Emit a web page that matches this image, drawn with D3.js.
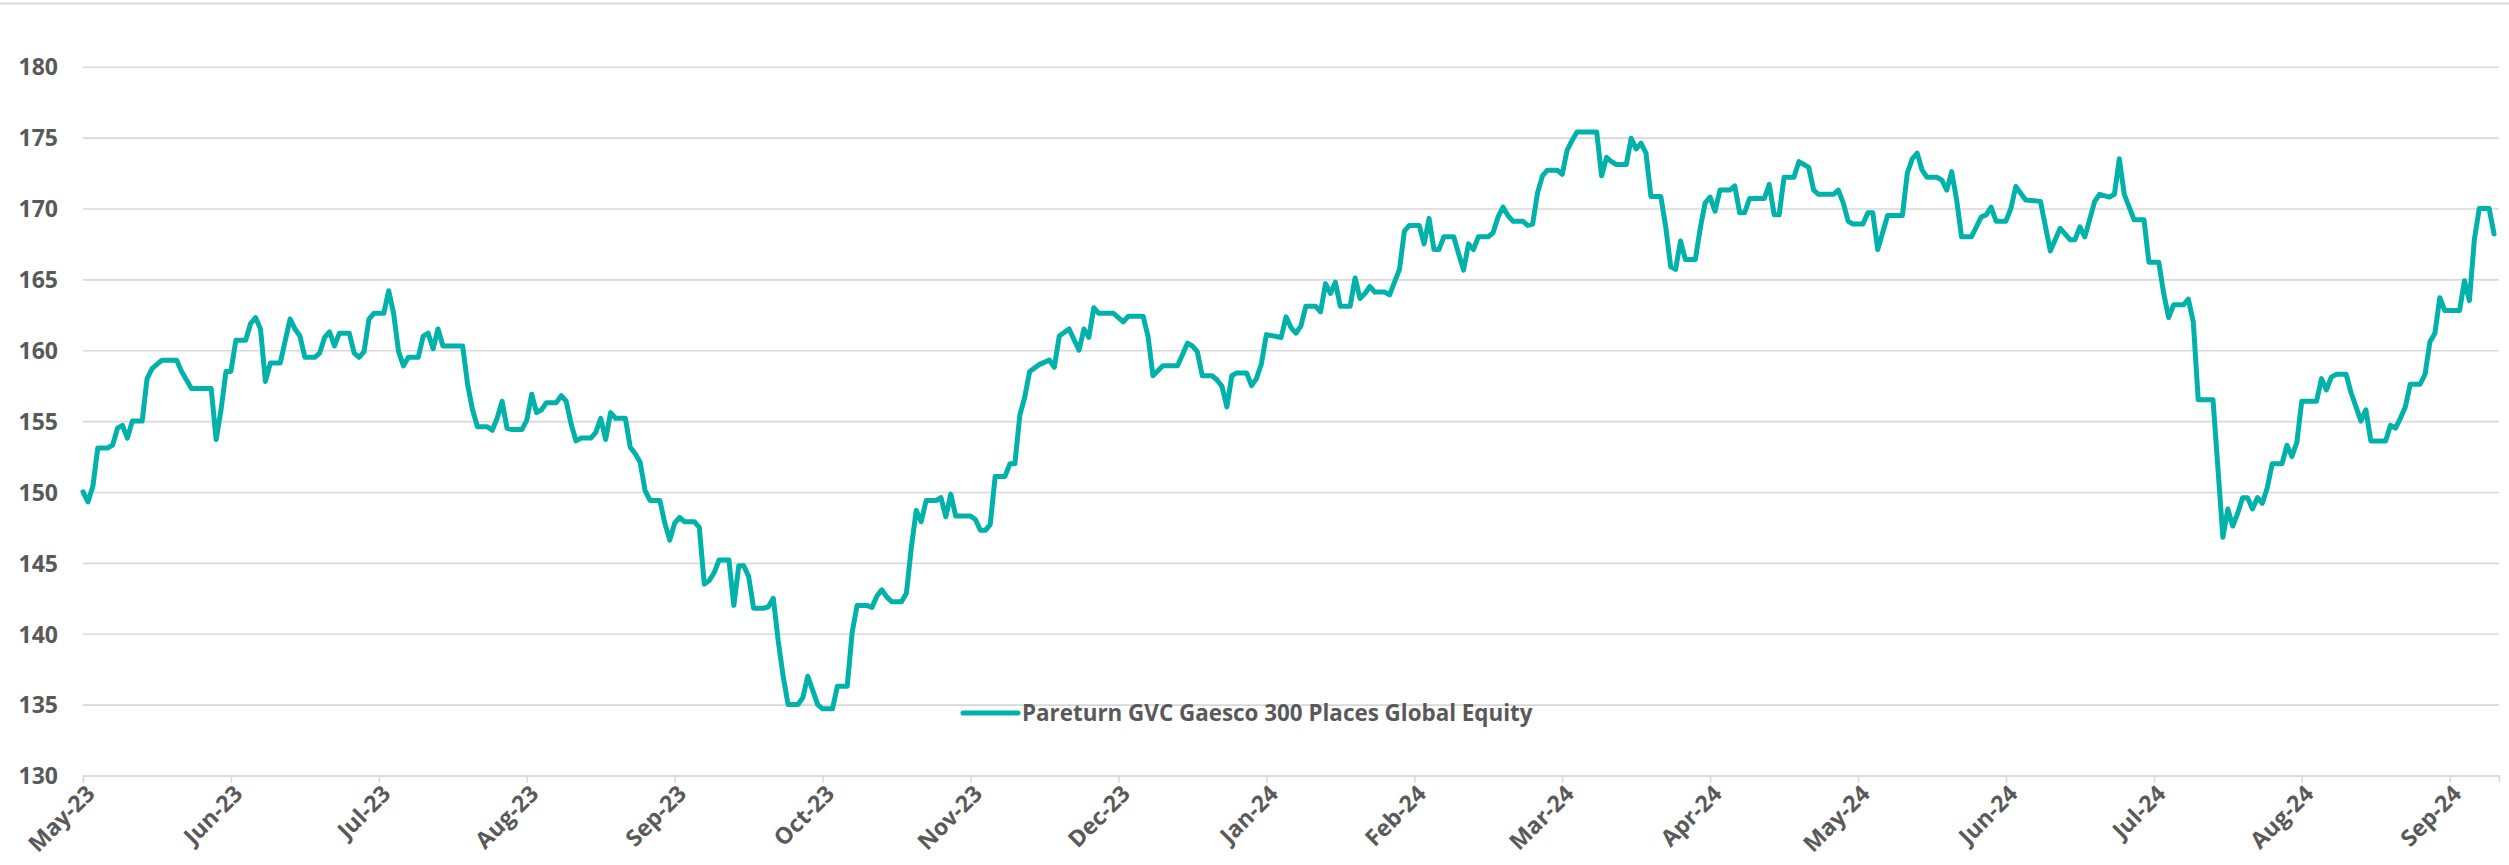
<!DOCTYPE html>
<html>
<head>
<meta charset="utf-8">
<script src="https://cdn.jsdelivr.net/npm/d3@7"></script>
<style>
  html, body { margin: 0; padding: 0; background: #ffffff; }
  svg { display: block; }
  text { font-family: "Open Sans", "Noto Sans", sans-serif; font-weight: 700; fill: #595959; }
</style>
</head>
<body>
<svg id="chart" width="2509" height="865"></svg>
<script>
// ---- data ----
const seriesName = "Pareturn GVC Gaesco 300 Places Global Equity";
const startDate = new Date(2023, 4, 16);
const axisDays = 490;
const tickStepDays = 30;
const yTicks = [130, 135, 140, 145, 150, 155, 160, 165, 170, 175, 180];

const dayOffsets = [
  0,1,2,3,5,6,7,8,9,10,12,13,14,15,16,19,20,21,22,26,27,28,29,30,31,33,34,35,36,37,38,40,42,43,44,45,47,48,49,50,51,52,54,55,56,57,58,59,61,62,63,64,
  65,66,68,69,70,71,72,73,77,78,79,80,82,83,84,85,86,87,89,90,91,92,93,94,96,97,98,99,100,101,103,104,105,106,107,108,110,111,112,113,114,115,117,118,119,120,121,122,124,125,126,127,128,129,131,132,133,134,135,136,138,139,140,141,142,143,
  145,146,147,148,149,150,152,153,155,156,157,159,160,161,162,163,164,166,167,168,169,170,171,173,174,175,176,177,180,181,182,183,184,185,187,188,189,190,191,
  192,194,196,197,198,200,202,203,204,205,206,209,211,212,215,216,217,219,222,224,225,226,
  227,229,230,231,232,233,234,236,237,238,239,240,243,244,245,246,247,248,250,251,252,253,254,255,257,258,259,260,261,262,264,265,266,267,268,269,271,272,273,274,275,276,278,279,280,281,282,283,285,286,287,288,289,290,292,293,294,295,296,297,299,300,301,302,303,307,308,309,310,
  311,313,314,315,316,317,318,320,321,322,323,324,325,327,328,329,330,331,332,334,335,336,337,338,341,342,343,344,345,347,348,349,350,351,352,355,356,357,358,359,361,362,363,364,365,366,369,370,371,372,373,374,376,377,378,379,380,381,383,384,385,386,387,388,390,391,392,
  394,397,399,401,403,404,405,406,408,409,411,412,413,414,416,418,419,421,422,423,424,426,427,428,429,432,434,435,436,437,438,439,440,441,442,443,444,446,447,448,449,450,453,454,455,456,457,459,460,462,463,464,467,468,469,470,471,472,474,475,476,477,478,479,482,483,484,485,486,488,489
];
const values = [
  150.0,149.3,150.4,153.1,153.1,153.3,154.5,154.7,153.8,155.0,155.0,158.0,158.7,159.0,159.3,159.3,158.5,157.9,157.3,157.3,153.7,155.8,158.5,158.5,160.7,160.7,161.9,162.3,161.5,157.8,159.1,159.1,162.2,161.5,161.0,159.5,159.5,159.8,160.9,161.3,160.3,161.2,161.2,159.8,159.5,159.9,162.2,162.6,162.6,164.2,162.6,159.9,
  158.9,159.5,159.5,161.0,161.2,160.1,161.5,160.3,160.3,157.6,155.8,154.6,154.6,154.35,155.2,156.4,154.5,154.4,154.4,155.05,156.9,155.6,155.8,156.3,156.3,156.8,156.4,154.8,153.6,153.8,153.8,154.2,155.2,153.7,155.6,155.2,155.2,153.15,152.7,152.1,150.1,149.4,149.4,147.8,146.6,147.8,148.2,147.9,147.9,147.5,143.5,143.75,144.3,145.2,145.2,142.0,144.8,144.8,144.05,141.8,141.8,141.9,142.5,139.5,137.0,135.0,
  135.0,135.5,137.0,136.0,135.0,134.7,134.7,136.3,136.3,140.1,142.0,142.0,141.85,142.65,143.1,142.6,142.25,142.25,142.85,146.1,148.7,147.9,149.4,149.4,149.6,148.25,149.85,148.3,148.3,148.06,147.3,147.3,147.7,151.1,151.1,152.0,152.0,155.4,156.7,
  158.5,159.0,159.3,158.8,161.0,161.5,160.0,161.5,160.9,163.0,162.6,162.6,162.0,162.4,162.4,161.0,158.2,158.9,158.9,160.5,160.3,159.9,
  158.2,158.2,157.9,157.45,156.0,158.2,158.4,158.4,157.5,158.0,159.05,161.1,160.9,162.35,161.6,161.2,161.7,163.1,163.1,162.7,164.7,164.0,164.8,163.1,163.1,165.1,163.65,164.0,164.5,164.1,164.1,163.9,164.8,165.7,168.4,168.8,168.8,167.5,169.3,167.1,167.1,168.0,168.0,166.8,165.65,167.5,167.1,168.0,168.0,168.3,169.4,170.1,169.5,169.1,169.1,168.8,168.9,171.1,172.3,172.7,172.7,172.4,174.1,174.8,175.4,175.4,172.3,173.6,173.3,
  173.1,173.1,174.95,174.2,174.6,173.9,170.85,170.85,168.7,165.9,165.7,167.7,166.4,166.4,168.6,170.4,170.8,169.8,171.3,171.3,171.6,169.7,169.7,170.7,170.7,171.7,169.55,169.55,172.2,172.2,173.3,173.1,172.9,171.3,171.0,171.0,171.3,170.4,169.1,168.9,168.9,169.7,169.7,167.1,168.3,169.5,169.5,172.5,173.5,173.9,172.7,172.2,172.2,172.0,171.3,172.6,170.6,168.0,168.0,168.7,169.4,169.55,170.1,169.1,169.1,170.0,171.55,
  170.6,170.5,167.0,168.6,167.8,167.8,168.7,168.0,170.5,171.0,170.8,171.0,173.5,171.0,169.2,169.2,166.2,166.2,164.0,162.3,163.2,163.2,163.6,162.0,156.5,156.5,146.8,148.8,147.6,148.5,149.6,149.6,148.8,149.6,149.2,150.3,152.0,152.0,153.3,152.5,153.5,156.4,156.4,158.0,157.2,158.1,158.3,158.3,157.0,155.0,155.8,153.6,153.6,154.7,154.5,155.2,156.0,157.6,157.6,158.3,160.6,161.2,163.7,162.8,162.8,164.9,163.5,167.8,170.0,170.0,168.2
];

// ---- chart ----
const W = 2509, H = 865;
const plot = { left: 83, right: 2499, top: 66.7, bottom: 775.5 };
const lineColor = "#00B2A9";
const gridColor = "#D9D9D9";

const svg = d3.select("#chart");
const data = dayOffsets.map((d, i) => ({ date: d3.timeDay.offset(startDate, d), value: values[i] }));

const x = d3.scaleTime()
  .domain([startDate, d3.timeDay.offset(startDate, axisDays)])
  .range([plot.left, plot.right]);
const y = d3.scaleLinear().domain([130, 180]).range([plot.bottom, plot.top]);

// outer border top line
svg.append("line").attr("x1", 0).attr("x2", W).attr("y1", 3.5).attr("y2", 3.5)
  .attr("stroke", gridColor).attr("stroke-width", 2);

// gridlines + y labels
const yAxis = d3.axisLeft(y).tickValues(yTicks).tickSize(plot.right - plot.left).tickPadding(25).tickFormat(d3.format("d"));
const gy = svg.append("g").attr("transform", `translate(${plot.right},0)`).call(yAxis);
gy.select(".domain").remove();
gy.selectAll(".tick line").attr("stroke", gridColor).attr("stroke-width", 1.6);
gy.selectAll(".tick text").style("font-size", "23px").attr("fill", "#595959").attr("dy", "0.36em");

// x axis
const xTickDates = d3.range(0, axisDays, tickStepDays).map(d => d3.timeDay.offset(startDate, d));
const xAxis = d3.axisBottom(x).tickValues(xTickDates).tickFormat(d3.timeFormat("%b-%y")).tickSize(7).tickPadding(6);
const gx = svg.append("g").attr("transform", `translate(0,${plot.bottom})`).call(xAxis);
gx.select(".domain").attr("stroke", gridColor).attr("stroke-width", 1.6);
gx.selectAll(".tick line").attr("stroke", gridColor).attr("stroke-width", 1.6);
gx.selectAll(".tick text")
  .style("font-size", "23px")
  .attr("fill", "#595959")
  .attr("text-anchor", "end")
  .attr("x", 0)
  .attr("y", 0)
  .attr("dx", 0)
  .attr("dy", "0.35em")
  .attr("transform", "translate(7,14) rotate(-45)");

// series line
const line = d3.line().x(d => x(d.date)).y(d => y(d.value));
svg.append("path").datum(data)
  .attr("fill", "none")
  .attr("stroke", lineColor)
  .attr("stroke-width", 5)
  .attr("stroke-linejoin", "round")
  .attr("stroke-linecap", "round")
  .attr("d", line);

// legend
const lg = svg.append("g").attr("transform", `translate(963, 713)`);
lg.append("line").attr("x1", 0).attr("x2", 55).attr("y1", 0).attr("y2", 0)
  .attr("stroke", lineColor).attr("stroke-width", 5).attr("stroke-linecap", "round");
lg.append("text").attr("x", 59).attr("y", 0).attr("dy", "0.35em")
  .style("font-size", "22.4px").text(seriesName);
</script>
</body>
</html>
